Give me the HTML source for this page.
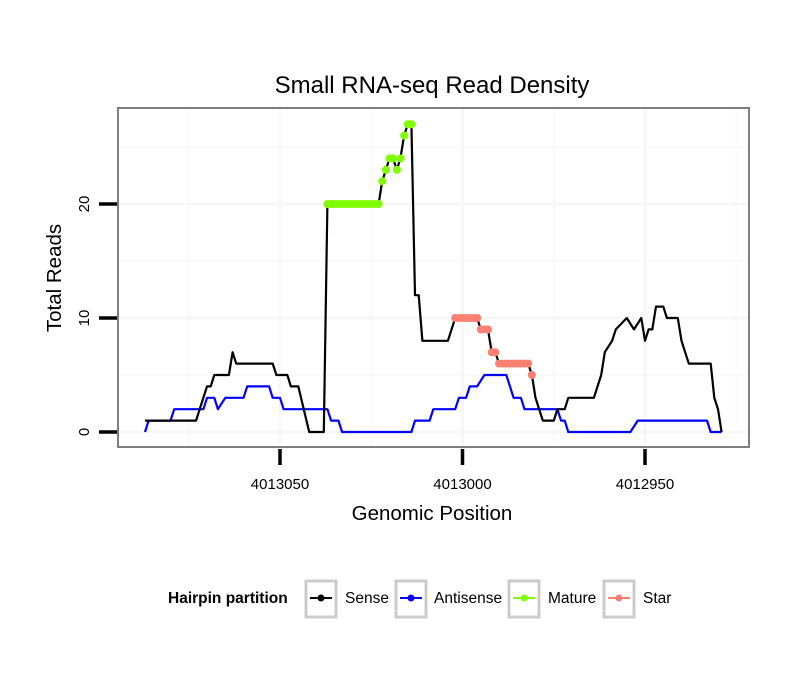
<!DOCTYPE html>
<html><head><meta charset="utf-8"><style>
body{margin:0;background:#fff;}
svg{display:block;font-family:"Liberation Sans",sans-serif;}
</style></head><body>
<svg id="chart" width="810" height="690">
<rect width="810" height="690" fill="#fff"/>
<text x="432" y="93" font-size="24" text-anchor="middle">Small RNA-seq Read Density</text>
<g id="grid"></g>
<g id="series"></g>
<rect x="118" y="108" width="631" height="339" fill="none" stroke="#7f7f7f" stroke-width="2"/>
<g id="axes"></g>
<text x="432" y="520" font-size="20.5" text-anchor="middle">Genomic Position</text>
<text transform="translate(61,278) rotate(-90)" font-size="20.5" text-anchor="middle">Total Reads</text>
<g>
<text x="168" y="603" font-size="15.5" font-weight="bold">Hairpin partition</text>
<g>
<rect x="306" y="581" width="30" height="36" fill="#fff" stroke="#ccc" stroke-width="3"/>
<line x1="310" y1="598" x2="332" y2="598" stroke="#000" stroke-width="2"/><circle cx="321" cy="598" r="3.5" fill="#000"/>
<text x="345" y="603" font-size="15.5">Sense</text></g>
<g>
<rect x="396" y="581" width="30" height="36" fill="#fff" stroke="#ccc" stroke-width="3"/>
<line x1="400" y1="598" x2="422" y2="598" stroke="#00f" stroke-width="2"/><circle cx="411" cy="598" r="3.5" fill="#00f"/>
<text x="434" y="603" font-size="15.5">Antisense</text></g>
<g>
<rect x="509" y="581" width="30" height="36" fill="#fff" stroke="#ccc" stroke-width="3"/>
<line x1="513" y1="598" x2="535" y2="598" stroke="#7fff00" stroke-width="2"/><circle cx="524" cy="598" r="3.5" fill="#7fff00"/>
<text x="548" y="603" font-size="15.5">Mature</text></g>
<g>
<rect x="604" y="581" width="30" height="36" fill="#fff" stroke="#ccc" stroke-width="3"/>
<line x1="608" y1="598" x2="630" y2="598" stroke="#fa8072" stroke-width="2"/><circle cx="619" cy="598" r="3.5" fill="#fa8072"/>
<text x="643" y="603" font-size="15.5">Star</text></g>
</g>
</svg>
<script>
const xTicks = [4013050, 4013000, 4012950];
const xMinor = [4013075, 4013025, 4012975, 4012925];
const yTicks = [0, 10, 20];
const yMinor = [5, 15, 25];
const sensePos = [4013087,4013073,4013072,4013070,4013069,4013068,4013064,4013063,4013062,4013052,4013051,4013048,4013047,4013045,4013042,4013038,4013037,4013023,4013022,4013021,4013020,4013019,4013018,4013017,4013016,4013015,4013014,4013013,4013012,4013011,4013004,4013002,4012996,4012995,4012993,4012992,4012991,4012990,4012982,4012981,4012980,4012978,4012975,4012974,4012972,4012971,4012964,4012962,4012961,4012959,4012958,4012955,4012953,4012951,4012950,4012949,4012948,4012947,4012945,4012944,4012941,4012940,4012938,4012932,4012931,4012930,4012929];
const senseVal = [1,1,2,4,4,5,5,7,6,6,5,5,4,4,0,0,20,20,22,23,24,24,23,24,26,27,27,12,12,8,8,10,10,9,9,7,7,6,6,5,3,1,1,2,2,3,3,5,7,8,9,10,9,10,8,9,9,11,11,10,10,8,6,6,3,2,0];
const antiPos = [4013087,4013086,4013080,4013079,4013071,4013070,4013068,4013067,4013065,4013060,4013059,4013053,4013052,4013050,4013049,4013037,4013036,4013034,4013033,4013014,4013013,4013009,4013008,4013002,4013001,4012999,4012998,4012996,4012994,4012988,4012986,4012984,4012983,4012974,4012973,4012972,4012971,4012954,4012952,4012933,4012932,4012929];
const antiVal = [0,1,1,2,2,3,3,2,3,3,4,4,3,3,2,2,1,1,0,0,1,1,2,2,3,3,4,4,5,5,3,3,2,2,1,1,0,0,1,1,0,0];
const maturePos = [4013037,4013036,4013035,4013034,4013033,4013032,4013031,4013030,4013029,4013028,4013027,4013026,4013025,4013024,4013023,4013022,4013021,4013020,4013019,4013018,4013017,4013016,4013015,4013014];
const matureVal = [20,20,20,20,20,20,20,20,20,20,20,20,20,20,20,22,23,24,24,23,24,26,27,27];
const starPos = [4013002,4013001,4013000,4012999,4012998,4012997,4012996,4012995,4012994,4012993,4012992,4012991,4012990,4012989,4012988,4012987,4012986,4012985,4012984,4012983,4012982,4012981];
const starVal = [10,10,10,10,10,10,10,9,9,9,7,7,6,6,6,6,6,6,6,6,6,5];

const NS='http://www.w3.org/2000/svg';
const X0=118,X1=749,Y0=108,Y1=447;
function xs(p){return 280+(4013050-p)*3.65;}
function ys(v){return 432-v*11.4;}
function mk(tag,attrs,parent){const e=document.createElementNS(NS,tag);for(const k in attrs)e.setAttribute(k,attrs[k]);parent.appendChild(e);return e;}
const grid=document.getElementById('grid'),axes=document.getElementById('axes'),ser=document.getElementById('series');
yMinor.forEach(v=>{const l=mk('line',{x1:X0,x2:X1,y1:ys(v),y2:ys(v),stroke:'#fafafa','stroke-width':2},grid);

});
xMinor.forEach(p=>{const l=mk('line',{x1:xs(p),x2:xs(p),y1:Y0,y2:Y1,stroke:'#fafafa','stroke-width':2},grid);

});
yTicks.forEach(v=>{const l=mk('line',{x1:X0,x2:X1,y1:ys(v),y2:ys(v),stroke:'#f7f7f7','stroke-width':3},grid);


const t=mk('line',{x1:99,x2:117,y1:ys(v),y2:ys(v),stroke:'#000','stroke-width':3.5},axes);


const tx=mk('text',{transform:`translate(89,${ys(v)}) rotate(-90)`,'font-size':15,'text-anchor':'middle'},axes);tx.textContent=v;

});
xTicks.forEach(p=>{const l=mk('line',{x1:xs(p),x2:xs(p),y1:Y0,y2:Y1,stroke:'#f7f7f7','stroke-width':3},grid);


const t=mk('line',{x1:xs(p),x2:xs(p),y1:449,y2:465,stroke:'#000','stroke-width':3.5},axes);


const tx=mk('text',{x:xs(p),y:489,'font-size':15,'text-anchor':'middle'},axes);tx.textContent=p;

});
function line(pos,val,color,name){const d=pos.map((p,i)=>(i?'L':'M')+xs(p).toFixed(1)+','+ys(val[i]).toFixed(1)).join('');
const e=mk('path',{d:d,fill:'none',stroke:color,'stroke-width':2.2,'stroke-linejoin':'round'},ser);

}
line(antiPos,antiVal,'#0000ff','antisense-line');
line(sensePos,senseVal,'#000000','sense-line');
function pts(pos,val,color,name){pos.forEach((p,i)=>{const c=mk('circle',{cx:xs(p),cy:ys(val[i]),r:4,fill:color},ser);

});}
pts(maturePos,matureVal,'#7fff00','mature-point');
pts(starPos,starVal,'#fa8072','star-point');
</script>
</body></html>
